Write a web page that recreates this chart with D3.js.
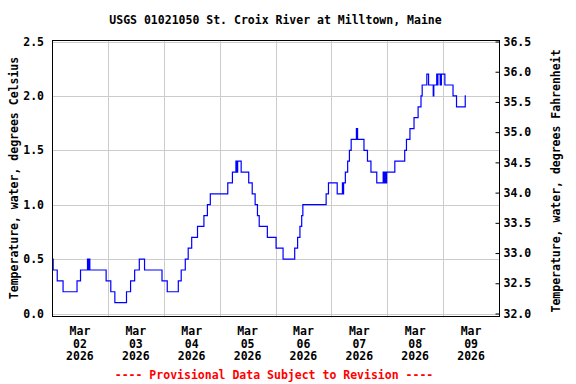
<!DOCTYPE html>
<html>
<head>
<meta charset="utf-8">
<script src="https://cdn.jsdelivr.net/npm/d3@7"></script>
<style>
  body { margin: 0; background: #fff; }
  text { font-family: "DejaVu Sans Mono", monospace; font-weight: bold; font-size: 11.5px; }
</style>
</head>
<body>
<svg id="chart" width="576" height="384"></svg>
<script>
// readings: 15-minute water temperature, only the points where the value changes
const times = [
  "2026-03-02 00:00", "2026-03-02 00:30", "2026-03-02 02:15", "2026-03-02 04:45", "2026-03-02 10:45",
  "2026-03-02 12:15", "2026-03-02 15:15", "2026-03-02 15:45", "2026-03-02 16:00", "2026-03-02 16:15",
  "2026-03-02 23:15", "2026-03-03 01:15", "2026-03-03 03:00", "2026-03-03 08:00", "2026-03-03 09:45",
  "2026-03-03 11:30", "2026-03-03 13:30", "2026-03-03 15:45", "2026-03-03 23:15", "2026-03-04 01:30",
  "2026-03-04 06:15", "2026-03-04 07:30", "2026-03-04 09:15", "2026-03-04 10:30", "2026-03-04 12:00",
  "2026-03-04 14:30", "2026-03-04 17:15", "2026-03-04 18:45", "2026-03-04 20:00", "2026-03-05 03:30",
  "2026-03-05 05:30", "2026-03-05 07:00", "2026-03-05 07:30", "2026-03-05 07:45", "2026-03-05 09:15",
  "2026-03-05 12:30", "2026-03-05 14:00", "2026-03-05 15:15", "2026-03-05 16:15", "2026-03-05 17:00",
  "2026-03-05 20:30", "2026-03-06 00:15", "2026-03-06 03:15", "2026-03-06 08:15", "2026-03-06 09:30",
  "2026-03-06 10:30", "2026-03-06 11:15", "2026-03-06 11:45", "2026-03-06 21:45", "2026-03-06 22:45",
  "2026-03-07 02:30", "2026-03-07 04:45", "2026-03-07 05:00", "2026-03-07 05:15", "2026-03-07 06:00",
  "2026-03-07 07:00", "2026-03-07 07:45", "2026-03-07 08:30", "2026-03-07 10:45", "2026-03-07 11:15",
  "2026-03-07 14:00", "2026-03-07 15:30", "2026-03-07 17:00", "2026-03-07 19:30", "2026-03-07 22:15",
  "2026-03-07 22:45", "2026-03-07 23:00", "2026-03-07 23:30", "2026-03-07 23:45", "2026-03-08 03:15",
  "2026-03-08 07:30", "2026-03-08 08:15", "2026-03-08 09:45", "2026-03-08 11:30", "2026-03-08 13:15",
  "2026-03-08 14:30", "2026-03-08 15:00", "2026-03-08 17:00", "2026-03-08 17:45", "2026-03-08 19:45",
  "2026-03-08 20:00", "2026-03-08 21:15", "2026-03-08 21:30", "2026-03-08 21:45", "2026-03-08 22:45",
  "2026-03-08 23:15", "2026-03-09 00:45", "2026-03-09 04:15", "2026-03-09 05:45", "2026-03-09 09:30",
  "2026-03-09 09:45"
];
const tempC = [
  0.5, 0.4, 0.3, 0.2, 0.3,
  0.4, 0.5, 0.4, 0.5, 0.4,
  0.3, 0.2, 0.1, 0.2, 0.3,
  0.4, 0.5, 0.4, 0.3, 0.2,
  0.3, 0.4, 0.5, 0.6, 0.7,
  0.8, 0.9, 1.0, 1.1, 1.2,
  1.3, 1.4, 1.3, 1.4, 1.3,
  1.2, 1.1, 1.0, 0.9, 0.8,
  0.7, 0.6, 0.5, 0.6, 0.7,
  0.8, 0.9, 1.0, 1.1, 1.2,
  1.1, 1.2, 1.1, 1.2, 1.3,
  1.4, 1.5, 1.6, 1.7, 1.6,
  1.5, 1.4, 1.3, 1.2, 1.3,
  1.2, 1.3, 1.2, 1.3, 1.4,
  1.5, 1.6, 1.7, 1.8, 1.9,
  2.0, 2.1, 2.2, 2.1, 2.0,
  2.1, 2.2, 2.1, 2.2, 2.1,
  2.2, 2.1, 2.0, 1.9, 2.0,
  2.0
];
const celsiusTicks = [0.0, 0.5, 1.0, 1.5, 2.0, 2.5];
const fahrenheitTicks = [32.0, 32.5, 33.0, 33.5, 34.0, 34.5, 35.0, 35.5, 36.0, 36.5];
const dayLabels = ["2026-03-02", "2026-03-03", "2026-03-04", "2026-03-05",
                   "2026-03-06", "2026-03-07", "2026-03-08", "2026-03-09"];
const titleText = "USGS 01021050 St. Croix River at Milltown, Maine";
const leftLabel = "Temperature, water, degrees Celsius";
const rightLabel = "Temperature, water, degrees Fahrenheit";
const footerText = "---- Provisional Data Subject to Revision ----";

const parseTime = d3.timeParse("%Y-%m-%d %H:%M");
const parseDay = d3.timeParse("%Y-%m-%d");
const data = times.map((t, i) => ({ t: parseTime(t), v: tempC[i] }));

const svg = d3.select("#chart");
const frame = { left: 52, right: 499, top: 40, bottom: 316 };

const x = d3.scaleTime()
  .domain([parseDay("2026-03-02"), parseDay("2026-03-10")])
  .range([frame.left, frame.right]);
const y = d3.scaleLinear()
  .domain([0, 2.5])
  .range([313.5, 41.5]);
const fToC = f => (f - 32) / 1.8;

// grid
const midnights = d3.timeDay.range(parseDay("2026-03-03"), parseDay("2026-03-10"));
svg.append("g")
  .selectAll("line")
  .data(midnights)
  .join("line")
  .attr("x1", d => Math.round(x(d)) + 0.5)
  .attr("x2", d => Math.round(x(d)) + 0.5)
  .attr("y1", frame.top)
  .attr("y2", frame.bottom)
  .attr("stroke", "#cccccc");

svg.append("g")
  .selectAll("line")
  .data(celsiusTicks)
  .join("line")
  .attr("x1", frame.left)
  .attr("x2", frame.right)
  .attr("y1", d => Math.round(y(d)) + 0.5)
  .attr("y2", d => Math.round(y(d)) + 0.5)
  .attr("stroke", "#cccccc");

// data line
const line = d3.line()
  .x(d => x(d.t))
  .y(d => y(d.v))
  .curve(d3.curveStepAfter);

svg.append("path")
  .datum(data)
  .attr("d", line)
  .attr("fill", "none")
  .attr("stroke", "#0000ff")
  .attr("stroke-width", 1.2);

// frame
svg.append("rect")
  .attr("x", frame.left + 0.5)
  .attr("y", frame.top + 0.5)
  .attr("width", frame.right - frame.left)
  .attr("height", frame.bottom - frame.top)
  .attr("fill", "none")
  .attr("stroke", "#000")
  .attr("stroke-width", 1);

// left axis labels (no tick marks)
svg.append("g")
  .selectAll("text")
  .data(celsiusTicks)
  .join("text")
  .attr("x", 44)
  .attr("y", d => y(d) + 4)
  .attr("text-anchor", "end")
  .text(d => d.toFixed(1));

// right axis: inward ticks and labels
const yF = d3.axisRight(y)
  .tickValues(fahrenheitTicks.map(fToC))
  .tickSize(-4)
  .tickPadding(4)
  .tickFormat(d => (d * 1.8 + 32).toFixed(1));
const rightAxis = svg.append("g")
  .attr("transform", `translate(${frame.right + 0.5},0)`)
  .call(yF);
rightAxis.select(".domain").remove();
rightAxis.selectAll("line").attr("stroke", "#000");
rightAxis.selectAll("text")
  .attr("fill", "#000")
  .attr("font-family", null)
  .attr("font-size", null);

// x labels, centred at noon
const noon = d => d3.timeHour.offset(parseDay(d), 12);
const xLab = svg.append("g")
  .selectAll("text")
  .data(dayLabels)
  .join("text")
  .attr("text-anchor", "middle")
  .attr("transform", d => `translate(${x(noon(d))},0)`);
xLab.append("tspan").attr("x", 0).attr("y", 335).text("Mar");
xLab.append("tspan").attr("x", 0).attr("y", 347.5).text(d => d.slice(8));
xLab.append("tspan").attr("x", 0).attr("y", 360).text(d => d.slice(0, 4));

// titles
svg.append("text")
  .attr("x", (frame.left + frame.right) / 2)
  .attr("y", 24)
  .attr("text-anchor", "middle")
  .text(titleText);

svg.append("text")
  .attr("transform", `translate(18,${(frame.top + frame.bottom) / 2}) rotate(-90)`)
  .attr("text-anchor", "middle")
  .text(leftLabel);

svg.append("text")
  .attr("transform", `translate(560,${(frame.top + frame.bottom) / 2 + 3}) rotate(-90)`)
  .attr("text-anchor", "middle")
  .text(rightLabel);

svg.append("text")
  .attr("x", 274)
  .attr("y", 379)
  .attr("text-anchor", "middle")
  .attr("fill", "#ff0000")
  .text(footerText);
</script>
</body>
</html>
